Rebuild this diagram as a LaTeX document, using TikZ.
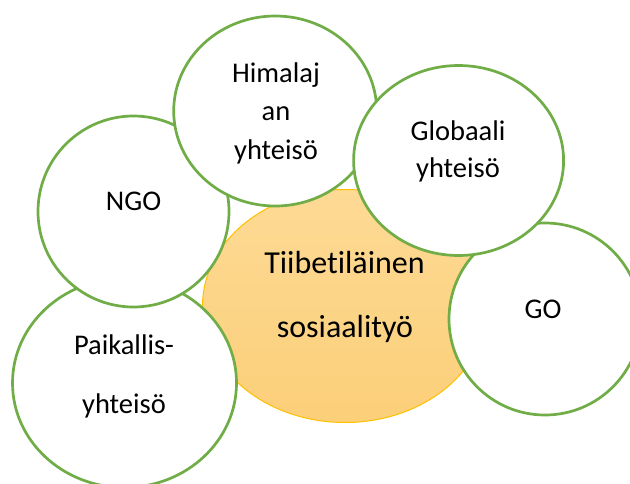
\documentclass[tikz,border=0pt]{standalone}
\usepackage{fontspec}
\setmainfont{Carlito}[Ligatures={NoCommon}]
\usetikzlibrary{shapes.geometric}
\definecolor{ringgreen}{HTML}{70AD47}
\definecolor{coretop}{HTML}{FDDA95}
\definecolor{corebot}{HTML}{FCCF79}
\definecolor{coreline}{HTML}{FFC000}
\begin{document}
\begin{tikzpicture}[x=1pt,y=-1pt,
  ring/.style={ellipse, draw=ringgreen, line width=2.7pt, fill=white, inner sep=0pt, outer sep=0pt},
  core/.style={ellipse, draw=coreline, line width=1pt, top color=coretop, bottom color=corebot, inner sep=0pt, outer sep=0pt},
  lbl/.style={anchor=base, inner sep=0pt, font=\fontsize{28.5}{34}\selectfont},
  corelbl/.style={anchor=base, inner sep=0pt, font=\fontsize{32}{38}\selectfont}]
\useasboundingbox (0,0) rectangle (630,483);
\node[core, minimum width=285pt, minimum height=233pt] (center) at (345,306) {};
\node[ring, minimum width=224pt, minimum height=209pt] (paik) at (124.5,383) {};
\node[ring, minimum width=191pt, minimum height=191pt] (ngo) at (133.5,211.5) {};
\node[ring, minimum width=203pt, minimum height=190pt] (him) at (275.2,111) {};
\node[ring, minimum width=192pt, minimum height=192pt] (go) at (545,319) {};
\node[ring, minimum width=210pt, minimum height=190pt] (glob) at (458.6,160.5) {};
\node[lbl] (him1) at (276,82) {Himalaj};
\node[lbl] (him2) at (276,120) {an};
\node[lbl] (him3) at (276,159) {yhteisö};
\node[lbl] (glob1) at (458,140) {Globaali};
\node[lbl] (glob2) at (458,177) {yhteisö};
\node[lbl] (ngo1) at (133.6,210) {NGO};
\node[lbl] (paik1) at (124,354) {Paikallis-};
\node[lbl] (paik2) at (124,413) {yhteisö};
\node[corelbl] (c1) at (344.5,273) {Tiibetiläinen};
\node[corelbl] (c2) at (345,337) {sosiaalityö};
\node[lbl] (go1) at (543,318) {GO};
\end{tikzpicture}
\end{document}
